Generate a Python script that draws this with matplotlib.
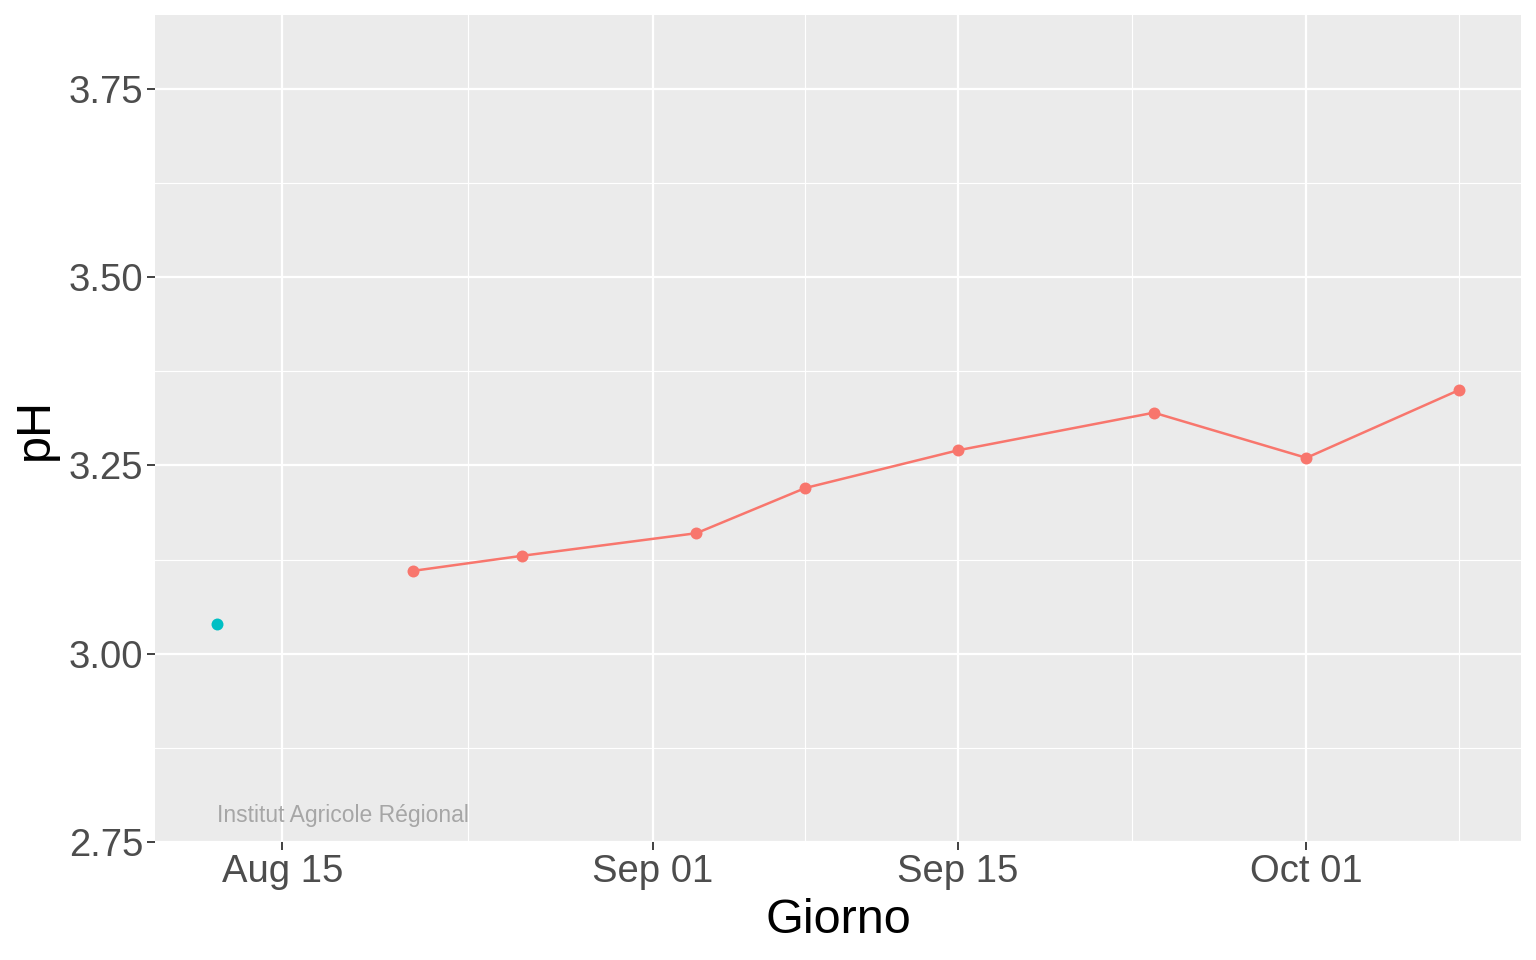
import numpy as np
import pandas as pd
import matplotlib
matplotlib.use("Agg")
import matplotlib.pyplot as plt
import matplotlib.dates as mdates

plt.rcParams['font.family'] = ['Liberation Sans', 'DejaVu Sans']

# ph readings, the lone early sample is a separate group
early_dates = pd.to_datetime(["2023-08-12"])
early_ph = [3.04]
main_dates = pd.to_datetime(["2023-08-21", "2023-08-26", "2023-09-03", "2023-09-08",
                             "2023-09-15", "2023-09-24", "2023-10-01", "2023-10-08"])
main_ph = [3.11, 3.13, 3.16, 3.22, 3.27, 3.32, 3.26, 3.35]

x_ticks = pd.to_datetime(["2023-08-15", "2023-09-01", "2023-09-15", "2023-10-01"])
x_minor = pd.to_datetime(["2023-08-23 12:00", "2023-09-08 00:00",
                          "2023-09-23 00:00", "2023-10-08 00:00"])
y_ticks = [2.75, 3.00, 3.25, 3.50, 3.75]
y_minor = [2.875, 3.125, 3.375, 3.625]

red = "#F8766D"
teal = "#00BFC4"

fig = plt.figure(figsize=(15.36, 9.6), dpi=100)
ax = fig.add_axes([155 / 1536, 1 - 842 / 960, (1521 - 155) / 1536, (842 - 15) / 960])
ax.set_facecolor("#EBEBEB")

ax.plot(main_dates, main_ph, color=red, lw=1.8, zorder=3)
ax.plot(main_dates, main_ph, "o", color=red, ms=8.6, mec="none", zorder=4)
ax.plot(early_dates, early_ph, "o", color=teal, ms=8.6, mec="none", zorder=4)

# x range with ggplot's 5% expansion
all_dates = early_dates.append(main_dates)
span = (all_dates.max() - all_dates.min()) * 0.05
ax.set_xlim(all_dates.min() - span, all_dates.max() + span)
ax.set_ylim(2.75, 3.848)

ax.set_xticks(x_ticks)
ax.set_xticks(x_minor, minor=True)
ax.xaxis.set_major_formatter(mdates.DateFormatter("%b %d"))
ax.xaxis.set_minor_formatter(plt.NullFormatter())
ax.set_yticks(y_ticks)
ax.set_yticks(y_minor, minor=True)
ax.set_yticklabels([f"{v:.2f}" for v in y_ticks])
ax.yaxis.set_minor_formatter(plt.NullFormatter())

ax.grid(which="major", color="white", lw=1.6)
ax.grid(which="minor", color="white", lw=0.8)
ax.set_axisbelow(True)
for s in ax.spines.values():
    s.set_visible(False)

ax.tick_params(which="major", length=5.5, width=1.3, color="#333333",
               labelsize=27.5, labelcolor="#4D4D4D", pad=3)
ax.tick_params(which="minor", length=0)

ax.set_xlabel("Giorno", fontsize=35, color="black", labelpad=6)
ax.set_ylabel("pH", fontsize=35, color="black", labelpad=8)

ax.text(early_dates[0], 2.777, "Institut Agricole Régional", fontsize=16.5,
        color="#A6A6A6", ha="left", va="baseline")

fig.savefig("out.png", dpi=100)
